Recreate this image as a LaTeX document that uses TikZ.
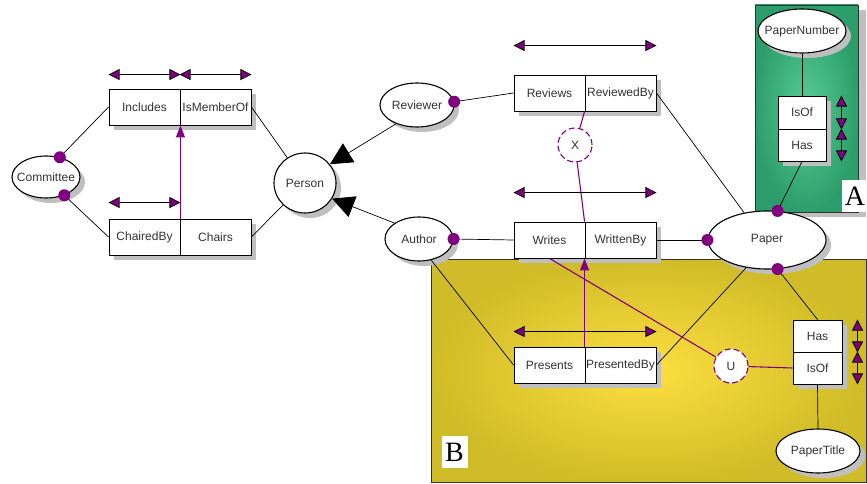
\documentclass[tikz,border=0pt]{standalone}
\usepackage{fontspec}
\setmainfont{Liberation Sans}
\newfontfamily\zonefont{Liberation Serif}
\usetikzlibrary{arrows.meta,shapes.geometric,shadows}
\definecolor{umpurple}{RGB}{128,0,128}
\definecolor{yellowin}{RGB}{253,222,62}
\definecolor{yellowout}{RGB}{208,188,40}
\definecolor{greenin}{RGB}{86,204,146}
\definecolor{greenout}{RGB}{44,158,108}
\newcommand{\entname}[1]{\makebox[0pt]{#1}}

\begin{document}
\begin{tikzpicture}[x=1pt,y=-1pt]
\tikzstyle{entity}=[ellipse, draw, line width=1.1pt, fill=white, text=black!80, inner sep=0pt, font=\fontsize{12}{14}\selectfont, drop shadow={shadow xshift=5pt, shadow yshift=-5pt, fill=black!25, opacity=1}]
\tikzstyle{role}=[rectangle, draw, line width=0.9pt, fill=white, text=black!80, inner sep=1pt, minimum width=71pt, minimum height=36pt, font=\fontsize{12}{14}\selectfont, drop shadow={shadow xshift=5pt, shadow yshift=-5pt, fill=black!25, opacity=1}]
\tikzstyle{dot}=[circle, fill=umpurple, inner sep=0pt, minimum size=12pt]
\tikzstyle{setop}=[circle, draw=umpurple, line width=1.1pt, dash pattern=on 6pt off 3pt, fill=white, text=black!80, minimum size=34pt, inner sep=0pt, font=\fontsize{12}{14}\selectfont]
\tikzstyle{zone}=[fill=white, inner sep=0pt, minimum width=26pt, minimum height=32pt, font=\zonefont\fontsize{28}{28}\selectfont]
\tikzstyle{rolearrow}=[line width=0.8pt, <->, >={Triangle[length=11pt, width=11pt, fill=umpurple]}]
\tikzstyle{link}=[umpurple, line width=1.1pt]
\tikzstyle{subset}=[umpurple, line width=1.1pt, -{Triangle[length=12pt, width=9pt]}]
\tikzstyle{isa}=[line width=0.7pt, -{Triangle[length=22pt, width=22pt]}]

\useasboundingbox (0,0) rectangle (867,484);

\shade[inner color=yellowin, outer color=yellowout, draw=black!80] (431,259) rectangle (866,482);
\fill[black!25] (760,10) rectangle (866,217);
\shade[inner color=greenin, outer color=greenout, draw=black!80] (755,5) rectangle (858,212);
\draw (855,196) node[zone] (labela) {A};
\draw (454.5,452) node[zone] (labelb) {B};

\draw (46,177) node[entity, minimum width=68pt, minimum height=42pt] (committee) {\entname{Committee}};
\draw (305,183) node[entity, minimum width=62pt, minimum height=60pt] (person) {\entname{Person}};
\draw (417,105) node[entity, minimum width=74pt, minimum height=44pt] (reviewer) {\entname{Reviewer}};
\draw (419,239) node[entity, minimum width=68pt, minimum height=44pt] (author) {\entname{Author}};
\draw (767,240) node[entity, minimum width=118pt, minimum height=58pt] (paper) {\entname{Paper}};
\draw (802,31) node[entity, minimum width=88pt, minimum height=44pt] (papernumber) {\entname{PaperNumber}};
\draw (818,451) node[entity, minimum width=84pt, minimum height=44pt] (papertitle) {\entname{PaperTitle}};

\draw (144.5,107) node[role] (includes) {Includes};
\draw (215.5,107) node[role] (ismemberof) {IsMemberOf};
\draw (144.5,237) node[role] (chairedby) {ChairedBy};
\draw (215.5,237) node[role] (chairs) {Chairs};
\draw (549.5,93) node[role] (reviews) {Reviews};
\draw (620.5,93) node[role] (reviewedby) {ReviewedBy};
\draw (549.5,240) node[role] (writes) {Writes};
\draw (620.5,240) node[role] (writtenby) {WrittenBy};
\draw (549.5,365) node[role] (presents) {Presents};
\draw (620.5,365) node[role] (presentedby) {PresentedBy};
\draw (802,112.5) node[role, minimum width=48pt, minimum height=33pt] (isofa) {IsOf};
\draw (802,145) node[role, minimum width=48pt, minimum height=32pt] (hasa) {Has};
\draw (817.5,336) node[role, minimum width=49pt, minimum height=32pt] (hasb) {Has};
\draw (817.5,368) node[role, minimum width=49pt, minimum height=32pt] (isofb) {IsOf};

\draw (575,145) node[setop] (x) {X};
\draw (731,366) node[setop] (u) {U};

\draw[line width=0.7pt] (committee.55) edge (includes.west);
\draw[line width=0.7pt] (committee.-45) edge (chairedby.west);
\draw[line width=0.7pt] (ismemberof.east) edge (person.125);
\draw[line width=0.7pt] (chairs.east) edge (person.225);
\draw[line width=0.7pt] (reviewer.5) edge (reviews.west);
\draw[line width=0.7pt] (author.east) edge (writes.west);
\draw[line width=0.7pt] (author.-60) edge (presents.west);
\draw[line width=0.7pt] (reviewedby.east) edge (paper.130);
\draw[line width=0.7pt] (writtenby.east) edge (paper.west);
\draw[line width=0.7pt] (presentedby.east) edge (paper.233);
\draw[line width=0.7pt] (papernumber.south) edge (isofa.north);
\draw[line width=0.7pt] (hasa.south) edge (paper.70);
\draw[line width=0.7pt] (paper.-70) edge (hasb.north);
\draw[line width=0.7pt] (isofb.south) edge (papertitle.north);
\draw (reviewer.222) edge[isa] (person.37);
\draw (author.147) edge[isa] (person.-30);

\draw (chairedby.north east) edge[subset] (includes.south east);
\draw (presentedby.north west) edge[subset] (writtenby.south west);
\draw (reviewedby.south west) edge[link] (x);
\draw (x) edge[link] (writtenby.north west);
\draw (writes.south) edge[link] (u);
\draw (u) edge[link] (isofb.west);

\draw[rolearrow] ([yshift=14pt]includes.north west) -- ([yshift=14pt]includes.north east);
\draw[rolearrow] ([yshift=14pt]ismemberof.north west) -- ([yshift=14pt]ismemberof.north east);
\draw[rolearrow] ([yshift=16pt]chairedby.north west) -- ([yshift=16pt]chairedby.north east);
\draw[rolearrow] ([yshift=29pt]reviews.north west) -- ([yshift=29pt]reviewedby.north east);
\draw[rolearrow] ([yshift=29pt]writes.north west) -- ([yshift=29pt]writtenby.north east);
\draw[rolearrow] ([yshift=15pt]presents.north west) -- ([yshift=15pt]presentedby.north east);
\draw[rolearrow] ([xshift=15pt]isofa.north east) -- ([xshift=15pt]isofa.south east);
\draw[rolearrow] ([xshift=15pt]hasa.north east) -- ([xshift=15pt]hasa.south east);
\draw[rolearrow] ([xshift=15pt]hasb.north east) -- ([xshift=15pt]hasb.south east);
\draw[rolearrow] ([xshift=15pt]isofb.north east) -- ([xshift=15pt]isofb.south east);

\draw (committee.55) node[dot] (cdot1) {};
\draw (committee.-45) node[dot] (cdot2) {};
\draw (reviewer.5) node[dot] (rdot) {};
\draw (author.east) node[dot] (adot) {};
\draw (paper.west) node[dot] (pdot1) {};
\draw (paper.70) node[dot] (pdot2) {};
\draw (paper.-70) node[dot] (pdot3) {};
\end{tikzpicture}
\end{document}
